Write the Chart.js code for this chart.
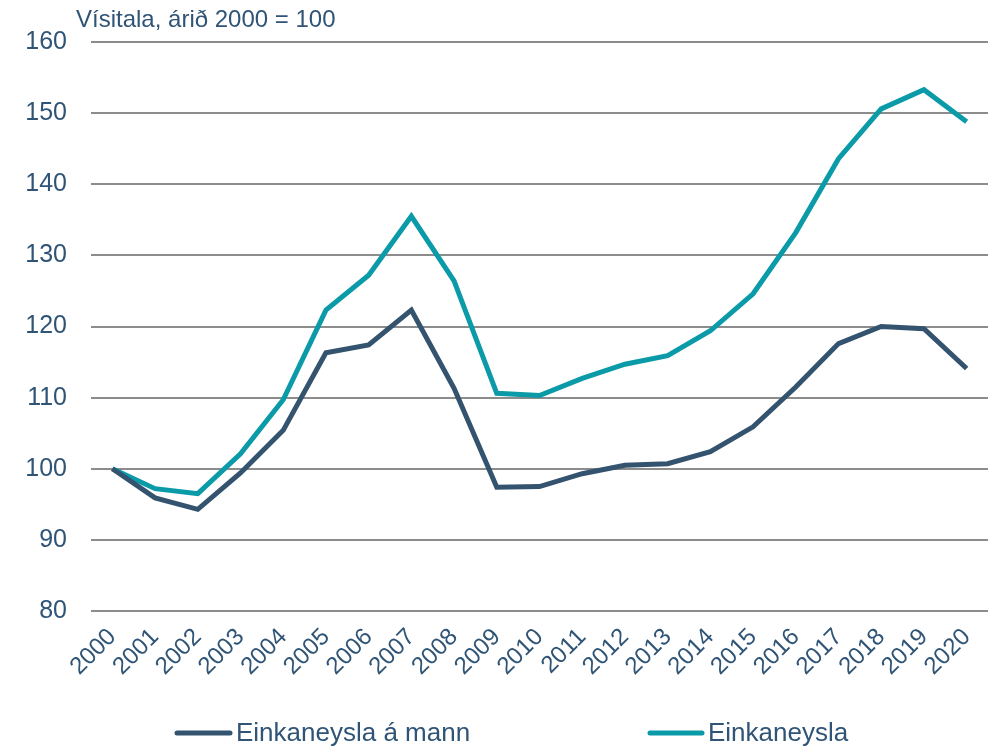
<!DOCTYPE html>
<html>
<head>
<meta charset="utf-8">
<script src="https://cdn.jsdelivr.net/npm/chart.js@4"></script>
<style>
  body { margin: 0; background: #fff; }
</style>
</head>
<body>
<canvas id="myChart" width="992" height="750"></canvas>
<script>
const years = ["2000", "2001", "2002", "2003", "2004", "2005", "2006", "2007", "2008", "2009", "2010",
  "2011", "2012", "2013", "2014", "2015", "2016", "2017", "2018", "2019", "2020"];
const perCapita = [100, 95.9, 94.3, 99.4, 105.4, 116.3, 117.4, 122.3, 111.3, 97.4, 97.5,
  99.3, 100.5, 100.7, 102.4, 105.9, 111.5, 117.6, 120.0, 119.7, 114.1];
const total = [100, 97.2, 96.5, 102.1, 109.7, 122.3, 127.2, 135.5, 126.4, 110.6, 110.3,
  112.7, 114.7, 115.9, 119.4, 124.6, 133.2, 143.6, 150.6, 153.3, 148.8];
const seriesNames = ["Einkaneysla á mann", "Einkaneysla"];
const axisTitle = "Vísitala, árið 2000 = 100";

const textColor = "#2f5476";
const darkBlue = "#34536f";
const teal = "#0a9aa8";
const font = "'Liberation Sans', Arial, sans-serif";

// Title and legend are drawn by hand so they sit where the original has them.
const extras = {
  id: "extras",
  afterDraw(chart) {
    const ctx = chart.ctx;
    ctx.save();
    ctx.font = "24px " + font;
    ctx.fillStyle = textColor;
    ctx.textBaseline = "middle";
    ctx.textAlign = "left";
    ctx.fillText(axisTitle, 76, 20);

    const items = [
      { x0: 177, x1: 230, tx: 236, color: darkBlue, label: seriesNames[0] },
      { x0: 650, x1: 702, tx: 708, color: teal, label: seriesNames[1] },
    ];
    ctx.font = "26px " + font;
    items.forEach((it) => {
      ctx.strokeStyle = it.color;
      ctx.lineWidth = 5;
      ctx.lineCap = "round";
      ctx.beginPath();
      ctx.moveTo(it.x0, 733);
      ctx.lineTo(it.x1, 733);
      ctx.stroke();
      ctx.fillText(it.label, it.tx, 734);
    });
    ctx.restore();
  },
};

const config = {
  type: "line",
  data: {
    labels: years,
    datasets: [
      {
        label: seriesNames[0],
        data: perCapita,
        borderColor: darkBlue,
        backgroundColor: darkBlue,
        borderWidth: 5,
        pointRadius: 0,
        tension: 0,
      },
      {
        label: seriesNames[1],
        data: total,
        borderColor: teal,
        backgroundColor: teal,
        borderWidth: 5,
        pointRadius: 0,
        tension: 0,
      },
    ],
  },
  options: {
    responsive: false,
    animation: false,
    layout: { padding: { top: 42, right: 4, bottom: 60, left: 0 } },
    plugins: {
      legend: { display: false },
      tooltip: { enabled: false },
    },
    scales: {
      x: {
        offset: true,
        grid: { display: false, drawTicks: false },
        border: { display: false },
        ticks: {
          color: textColor,
          font: { family: font, size: 24 },
          minRotation: 45,
          maxRotation: 45,
          padding: 12,
          autoSkip: false,
        },
        afterFit(scale) {
          scale.height = 79;
          scale.paddingRight = 0;
          scale.paddingLeft = 0;
        },
      },
      y: {
        min: 80,
        max: 160,
        grid: { color: "#8c8c8c", lineWidth: 2, drawTicks: false },
        border: { display: false },
        ticks: {
          stepSize: 10,
          color: textColor,
          font: { family: font, size: 25 },
          padding: 24,
        },
        afterFit(scale) { scale.width = 91; },
      },
    },
  },
  plugins: [extras],
};

let myChart = new Chart(document.getElementById("myChart"), config);
</script>
</body>
</html>
